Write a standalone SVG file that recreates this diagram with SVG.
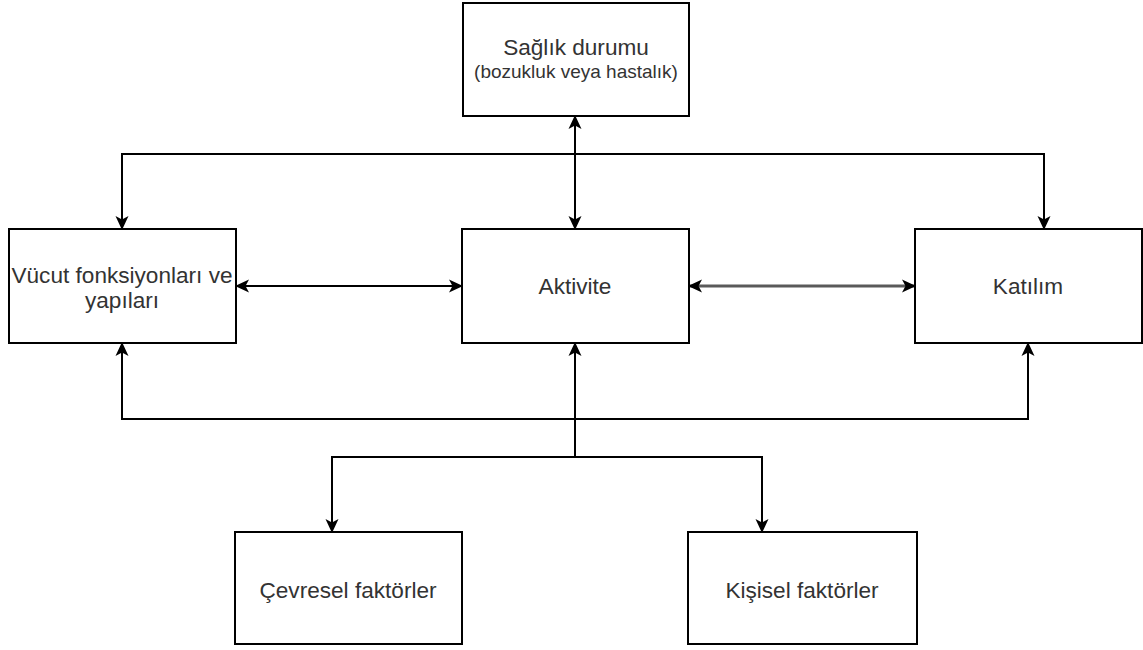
<svg xmlns="http://www.w3.org/2000/svg" width="1143" height="650" viewBox="0 0 1143 650">
<style>
.box{fill:#ffffff;stroke:#000000;stroke-width:2}
.lbl{font-family:"Liberation Sans",Arial,sans-serif;font-size:22.6px;fill:#333333;text-anchor:middle}
.sub{font-size:19px}
.edge{fill:none;stroke:#000000;stroke-width:2}
.gray{stroke:#5a5a5a;stroke-width:3}
</style>
<defs>
<marker id="arr" viewBox="0 0 14 14" markerWidth="14" markerHeight="14" refX="13" refY="7" markerUnits="userSpaceOnUse" orient="auto-start-reverse">
<path d="M0,0.5 L14,7 L0,13.5 L3.5,7 z" fill="#000000"/>
</marker>
</defs>
<rect width="1143" height="650" fill="#ffffff"/>
<g id="connectors">
<path class="edge" d="M575,116 L575,229" marker-start="url(#arr)" marker-end="url(#arr)"/>
<path class="edge" d="M575,154 L122,154 L122,229" marker-end="url(#arr)"/>
<path class="edge" d="M575,154 L1044,154 L1044,229" marker-end="url(#arr)"/>
<path class="edge" d="M236,286 L462,286" marker-start="url(#arr)" marker-end="url(#arr)"/>
<path class="edge gray" d="M689,286 L915,286" marker-start="url(#arr)" marker-end="url(#arr)"/>
<path class="edge" d="M575,457 L575,343" marker-end="url(#arr)"/>
<path class="edge" d="M575,419 L122,419 L122,343" marker-end="url(#arr)"/>
<path class="edge" d="M575,419 L1028,419 L1028,343" marker-end="url(#arr)"/>
<path class="edge" d="M575,457 L332,457 L332,532" marker-end="url(#arr)"/>
<path class="edge" d="M575,457 L762,457 L762,532" marker-end="url(#arr)"/>
</g>
<g id="saglik">
<rect class="box" x="463" y="3" width="226" height="113"/>
<text class="lbl" x="576" y="55">Sağlık durumu</text>
<text class="lbl sub" x="576" y="78">(bozukluk veya hastalık)</text>
</g>
<g id="vucut">
<rect class="box" x="9" y="229" width="227" height="114"/>
<text class="lbl" x="122" y="283">Vücut fonksiyonları ve</text>
<text class="lbl" x="122" y="308">yapıları</text>
</g>
<g id="aktivite">
<rect class="box" x="462" y="229" width="227" height="114"/>
<text class="lbl" x="575" y="294">Aktivite</text>
</g>
<g id="katilim">
<rect class="box" x="915" y="229" width="227" height="114"/>
<text class="lbl" x="1028" y="294">Katılım</text>
</g>
<g id="cevresel">
<rect class="box" x="235" y="532" width="227" height="112"/>
<text class="lbl" x="348" y="598">Çevresel faktörler</text>
</g>
<g id="kisisel">
<rect class="box" x="688" y="532" width="229" height="112"/>
<text class="lbl" x="802" y="598">Kişisel faktörler</text>
</g>
</svg>
